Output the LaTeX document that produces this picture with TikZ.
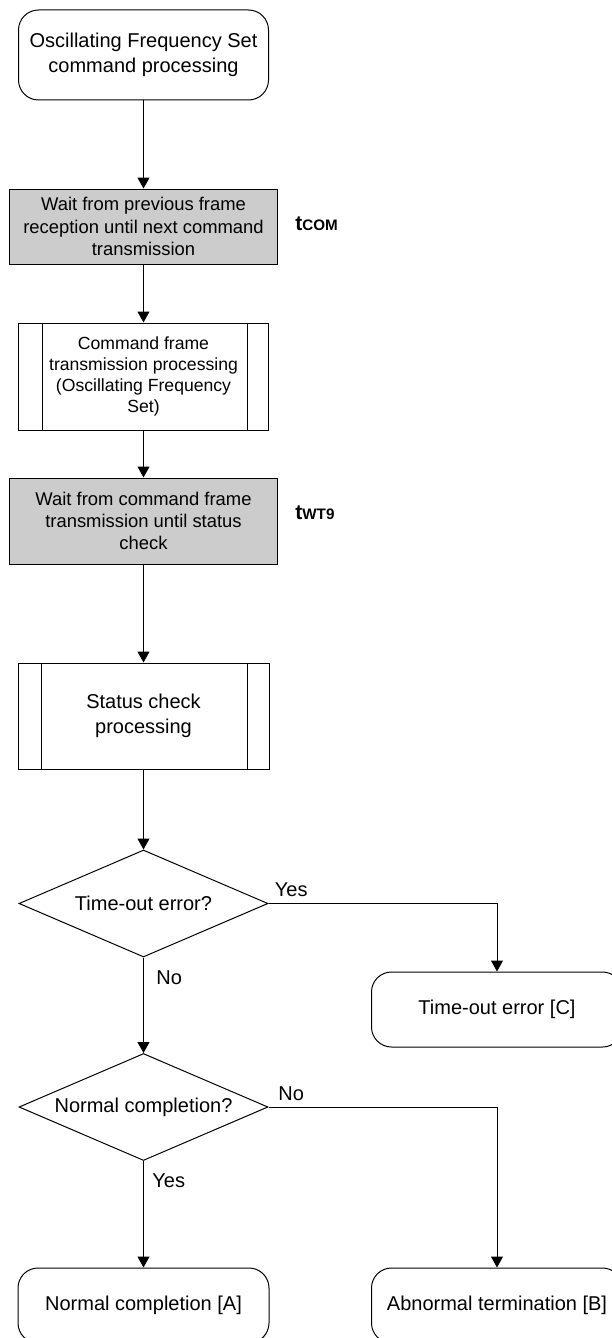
\documentclass[tikz,border=0pt]{standalone}
\usepackage{fontspec}
\setmainfont{Liberation Sans}
\usepackage{tikz}
\usetikzlibrary{shapes.geometric, arrows.meta, positioning, calc}
\definecolor{waitgray}{HTML}{CCCCCC}
\tikzset{
  ofsblock/.style={rectangle, draw=black, line width=0.5pt, inner sep=0pt,
                   align=center, font=\fontsize{10}{12.5}\selectfont},
  ofsterm/.style={ofsblock, rounded corners=10pt,
                  minimum width=125.5pt, minimum height=37.5pt},
  ofswait/.style={ofsblock, fill=waitgray, minimum width=134pt,
                  font=\fontsize{9.2}{11.2}\selectfont},
  ofssub/.style={ofsblock, minimum width=125.5pt, minimum height=53.5pt,
                 path picture={
                   \draw[line width=0.5pt]
                     ($(path picture bounding box.north west)+(11.75pt,0)$) --
                     ($(path picture bounding box.south west)+(11.75pt,0)$);
                   \draw[line width=0.5pt]
                     ($(path picture bounding box.north east)+(-10.75pt,0)$) --
                     ($(path picture bounding box.south east)+(-10.75pt,0)$);}},
  ofsdec/.style={diamond, draw=black, line width=0.5pt, inner sep=0pt,
                 aspect=2.3, minimum width=124.5pt, minimum height=53.5pt,
                 align=center, font=\fontsize{10}{12}\selectfont},
  ofslabel/.style={inner sep=0pt, font=\fontsize{10}{12}\selectfont},
  ofstime/.style={inner sep=0pt, font=\bfseries\fontsize{10.5}{12}\selectfont},
  ofsarrow/.style={-{Triangle[length=5.5pt, width=6pt]}, line width=0.5pt},
}

\begin{document}
\begin{tikzpicture}[x=0.5pt, y=-0.5pt]
  \useasboundingbox (0,0) rectangle (611,1338);
  % main column
  \node[ofsterm, minimum width=125pt, minimum height=45pt] (start) at (143.5, 55)
    {Oscillating Frequency Set\\command processing};
  \node[ofswait, minimum height=37.5pt] (wait1) at (143.5, 226.5)
    {Wait from previous frame\\reception until next command\\transmission};
  \node[ofssub, minimum width=125pt, font=\fontsize{8.8}{10.5}\selectfont] (cmd) at (143.5, 376.5)
    {Command frame\\transmission processing\\(Oscillating Frequency\\Set)};
  \node[ofswait, minimum height=43pt] (wait2) at (143.5, 521)
    {Wait from command frame\\transmission until status\\check};
  \node[ofssub, minimum height=53pt] (status) at (143.5, 716)
    {Status check\\processing};
  \node[ofsdec] (dec1) at (143.5, 903.5) {Time-out error?};
  \node[ofsdec] (dec2) at (143.5, 1107) {Normal completion?};
  % end states
  \node[ofsterm] (errC) at (497, 1009.5) {Time-out error [C]};
  \node[ofsterm] (endA) at (143.5, 1305.5) {Normal completion [A]};
  \node[ofsterm] (endB) at (497, 1305.5) {Abnormal termination [B]};
  % wait times
  \node[ofstime, anchor=base west] (tcom) at (295, 230.5)
    {t{\fontsize{7.6}{8}\selectfont COM}};
  \node[ofstime, anchor=base west] (twt) at (295, 519)
    {t{\fontsize{7.6}{8}\selectfont WT9}};
  % branch labels
  \node[ofslabel, anchor=base west] (yes1) at (274.5, 896) {Yes};
  \node[ofslabel, anchor=base west] (no1) at (156, 984) {No};
  \node[ofslabel, anchor=base west] (no2) at (278, 1100) {No};
  \node[ofslabel, anchor=base west] (yes2) at (152, 1187) {Yes};
  % connectors
  \draw[ofsarrow] (start) -- (wait1);
  \draw[ofsarrow] (wait1) -- (cmd);
  \draw[ofsarrow] (cmd) -- (wait2);
  \draw[ofsarrow] (wait2) -- (status);
  \draw[ofsarrow] (status) -- (dec1);
  \draw[ofsarrow] (dec1) -- (dec2);
  \draw[ofsarrow] (dec1.east) -| (errC.north);
  \draw[ofsarrow] (dec2) -- (endA);
  \draw[ofsarrow] (dec2.east) -| (endB.north);
\end{tikzpicture}
\end{document}
